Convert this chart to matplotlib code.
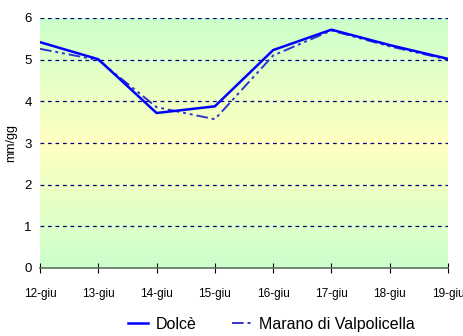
import numpy as np
import matplotlib.pyplot as plt
from matplotlib.colors import LinearSegmentedColormap
from matplotlib import font_manager

days = ['12-giu', '13-giu', '14-giu', '15-giu', '16-giu', '17-giu', '18-giu', '19-giu']
dolce = [5.42, 5.01, 3.72, 3.88, 5.23, 5.72, 5.35, 5.02]
marano = [5.26, 4.99, 3.86, 3.57, 5.10, 5.70, 5.32, 5.00]

names = {f.name for f in font_manager.fontManager.ttflist}
family = 'Liberation Sans Narrow' if 'Liberation Sans Narrow' in names else 'Liberation Sans'
plt.rcParams['font.family'] = [family, 'DejaVu Sans']

fig = plt.figure(figsize=(4.64, 3.36), dpi=100)
ax = fig.add_axes([40 / 464, 68 / 336, 408 / 464, 250 / 336])

x = np.arange(len(days))

# green - yellow - green background
cmap = LinearSegmentedColormap.from_list('bg', ['#ccffcc', '#ffffc0', '#ccffcc'])
grad = np.linspace(0, 1, 256).reshape(-1, 1)
ax.imshow(grad, cmap=cmap, aspect='auto', extent=(0, len(days) - 1, 0, 6),
          origin='lower', zorder=0)

for yv in range(1, 7):
    ax.axhline(yv, color='#000080', lw=0.9, ls=(0, (3, 3)), zorder=1)

ax.plot(x, dolce, color='#0000ff', lw=1.8, label='Dolcè', zorder=3)
ax.plot(x, marano, color='#3333cc', lw=1.4, ls=(0, (6, 2, 1.5, 2, 1.5, 2)),
        label='Marano di Valpolicella', zorder=2)

ax.set_xlim(0, len(days) - 1)
ax.set_ylim(0, 6)
ax.set_xticks(x)
ax.set_xticklabels(days, fontsize=8.5)
ax.set_yticks(range(0, 7))
ax.tick_params(axis='y', length=0, labelsize=9.5, pad=6)
ax.tick_params(axis='x', direction='inout', length=7, color='black', pad=11)
for s in ['top', 'right', 'left']:
    ax.spines[s].set_visible(False)
ax.spines['bottom'].set_color('#607060')
ax.spines['bottom'].set_linewidth(1.2)
ax.set_ylabel('mm/gg', fontsize=9, labelpad=5)

fig.legend(loc='center', bbox_to_anchor=(0.585, 0.035), ncol=2, frameon=False,
           fontsize=11.5, handlelength=1.25, handletextpad=0.45, columnspacing=2.2)

fig.savefig('out.png', dpi=100)
